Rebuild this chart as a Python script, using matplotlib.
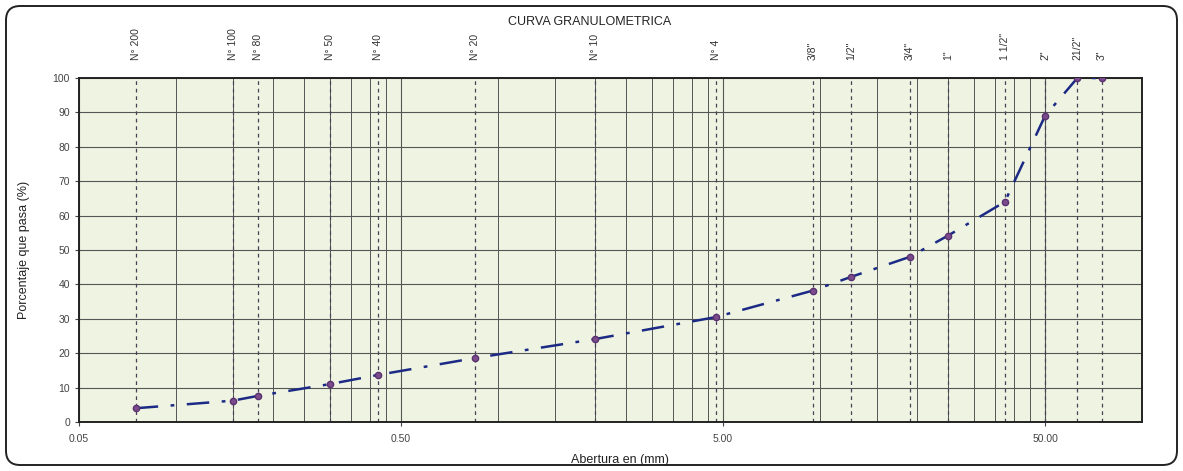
import matplotlib
matplotlib.use("Agg")
import matplotlib.pyplot as plt
import numpy as np
from matplotlib.patches import FancyBboxPatch

plt.rcParams["font.family"] = ["Liberation Sans", "DejaVu Sans"]

# ---- data ----
sieve_labels = ["N° 200", "N° 100", "N° 80", "N° 50", "N° 40", "N° 20", "N° 10", "N° 4",
                "3/8\"", "1/2\"", "3/4\"", "1\"", "1 1/2\"", "2\"", "21/2\"", "3\""]
sieve_mm = [0.075, 0.15, 0.18, 0.30, 0.425, 0.85, 2.00, 4.75,
            9.50, 12.50, 19.00, 25.00, 37.50, 50.00, 63.00, 75.00]
pct_pass = [4.0, 6.2, 7.6, 11.0, 13.7, 18.6, 24.1, 30.5,
            38.2, 42.2, 48.0, 54.2, 64.0, 89.0, 100.0, 100.0]
x_major = [0.05, 0.5, 5.0, 50.0]
x_major_labels = ["0.05", "0.50", "5.00", "50.00"]
y_ticks = [0, 10, 20, 30, 40, 50, 60, 70, 80, 90, 100]

W, H = 1183, 471
fig = plt.figure(figsize=(W / 100, H / 100), dpi=100)
fig.patch.set_facecolor("white")

ax = fig.add_axes([79 / W, 1 - 422 / H, (1142 - 79) / W, (422 - 78) / H])
ax.set_facecolor("#eef4e1")
ax.set_xscale("log")
ax.set_xlim(0.05, 100)
ax.set_ylim(0, 100)

# Excel-style log gridlines at multiples of the starting value
minor = []
for d in x_major:
    for k in range(1, 10):
        minor.append(d * k)
minor = [m for m in minor if 0.05 < m < 100 and m not in x_major]
ax.set_xticks(x_major)
ax.set_xticklabels(x_major_labels)
ax.set_xticks(minor, minor=True)
ax.xaxis.set_minor_formatter(matplotlib.ticker.NullFormatter())
ax.set_yticks(y_ticks)

grid_c = "#555555"
ax.grid(True, which="major", axis="both", color=grid_c, lw=0.8)
ax.grid(True, which="minor", axis="x", color=grid_c, lw=0.7)
ax.set_axisbelow(True)

# sieve dashed lines
for s in sieve_mm:
    ax.axvline(s, color="#4a4058", lw=0.9, ls=(0, (3, 3)), zorder=1.5)

ax.plot(sieve_mm, pct_pass, color="#1c2a86", lw=1.8, ls=(0, (9, 5, 1.5, 5)), zorder=3)
ax.plot(sieve_mm, pct_pass, ls="none", marker="o", ms=4.5, color="#7a4c8c",
        markeredgecolor="#5a3070", zorder=4)

for sp in ax.spines.values():
    sp.set_color("#222222")
    sp.set_linewidth(1.4)

ax.tick_params(axis="both", which="major", labelsize=7.5, colors="#444444", length=3)
ax.tick_params(axis="x", which="minor", length=0)
ax.tick_params(axis="x", which="major", pad=6)

# top sieve labels
top = ax.secondary_xaxis("top")
top.set_xticks(sieve_mm)
top.set_xticklabels(sieve_labels, rotation=90, fontsize=7.5, color="#333333")
top.tick_params(length=0, pad=13)
top.xaxis.set_minor_locator(matplotlib.ticker.NullLocator())
top.spines["top"].set_visible(False)

ax.set_ylabel("Porcentaje que pasa (%)", fontsize=9, color="#222222", labelpad=16)
fig.text(620 / W, 1 - 460 / H, "Abertura en (mm)", ha="center", va="center",
         fontsize=9, color="#222222")
fig.text(590 / W, 1 - 22 / H, "CURVA GRANULOMETRICA", ha="center", va="center",
         fontsize=9, color="#222222")

# rounded frame around figure
frame = FancyBboxPatch((6 / W, 6 / H), (W - 12) / W, (H - 12) / H,
                       boxstyle="round,pad=0,rounding_size=0.012",
                       transform=fig.transFigure, fill=False,
                       edgecolor="#222222", lw=1.4, mutation_aspect=W / H)
fig.patches.append(frame)

fig.savefig("out.png", dpi=100)
